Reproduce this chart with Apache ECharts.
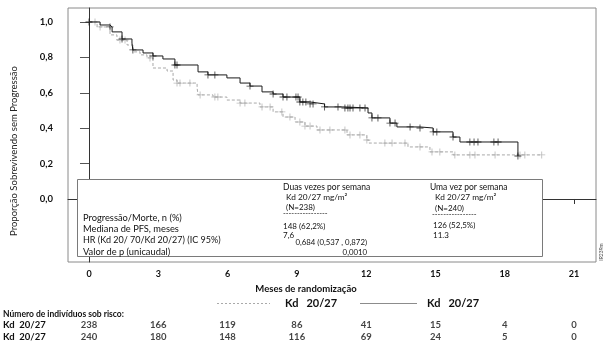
<!DOCTYPE html>
<html><head><meta charset="utf-8">
<script src="https://cdn.jsdelivr.net/npm/echarts@6/dist/echarts.min.js"></script>
<style>html,body{margin:0;padding:0;background:#fff}#c{width:613px;height:347px}</style>
</head><body><div id="c"></div>
<script>
// ---- data ----
const xTicks = [0, 3, 6, 9, 12, 15, 18, 21];
const yTicks = [0, 0.2, 0.4, 0.6, 0.8, 1.0];
// twice weekly (grey dashed)
const twiceTimes = [0,0.35,0.91,1.21,1.65,1.9,2.21,2.51,2.77,3.38,3.64,3.81,4.68,4.72,5.37,5.97,6.54,7.4,7.97,8.4,8.92,9.35,9.87,11.17,12.03,12.12,13.81,14.76,15.76];
const twiceSurv  = [1,0.972,0.927,0.898,0.87,0.831,0.814,0.797,0.74,0.723,0.672,0.655,0.627,0.588,0.576,0.559,0.542,0.52,0.492,0.463,0.435,0.412,0.39,0.362,0.333,0.316,0.294,0.266,0.249];
const twiceEnd = 19.6;
const twiceCensor = [0.26,0.48,1.34,1.56,2.64,3.81,3.94,4.37,4.81,5.45,5.58,6.54,6.75,7.49,7.84,8.35,8.7,9.13,9.35,9.57,10.0,10.43,11.08,11.3,11.73,12.03,12.81,13.12,13.68,14.33,14.85,15.19,15.84,16.49,16.71,17.58,18.66,18.87,19.6];
// once weekly (black solid)
const onceTimes = [0,0.48,0.91,1.0,1.43,1.86,1.9,2.34,2.77,3.2,3.72,4.72,5.15,5.97,6.54,6.97,7.49,7.97,8.4,9.13,9.57,10.2,11.08,12.08,12.25,13.03,13.33,14.33,14.9,15.76,16.06,18.57];
const onceSurv  = [1,0.983,0.972,0.944,0.904,0.881,0.842,0.825,0.808,0.791,0.757,0.718,0.701,0.684,0.655,0.638,0.605,0.593,0.576,0.548,0.537,0.52,0.514,0.486,0.458,0.429,0.407,0.401,0.379,0.35,0.322,0.243];
const onceEnd = 18.57;
const onceCensor = [0,0.91,1.43,1.9,2.77,3.72,3.81,5.15,5.45,6.97,7.97,8.4,8.57,8.96,9.05,9.13,9.26,9.39,9.57,9.7,10.2,10.78,11.08,11.21,11.3,11.43,11.73,11.95,12.25,12.51,13.03,13.25,13.9,14.33,14.9,15.06,15.76,16.49,16.67,16.84,17.53,17.71,18.57];
// number at risk
const riskTimes = [0, 3, 6, 9, 12, 15, 18, 21];
const riskTwice = [238, 166, 119, 86, 41, 15, 4, 0];
const riskOnce  = [240, 180, 148, 116, 69, 24, 5, 0];
const rowLabels = ['Kd  20/27', 'Kd  20/27'];

// ---- build ----
function curve(times, surv, end) {
  const d = times.map((t, i) => [t, surv[i]]);
  if (end > times[times.length - 1]) d.push([end, surv[surv.length - 1]]);
  return d;
}
function stepVal(times, surv, t) {
  let v = surv[0];
  for (let i = 0; i < times.length; i++) { if (times[i] <= t + 1e-9) v = surv[i]; }
  return v;
}
const plus = 'path://M-0.6,-5H0.6V-0.6H5V0.6H0.6V5H-0.6V0.6H-5V-0.6H-0.6Z';
const F = 'Lato, "Liberation Sans", sans-serif';
const grey = '#a9a9a9';

const riskData = [];
riskTimes.forEach((t, i) => { riskData.push([t, 0, riskTwice[i]]); riskData.push([t, 1, riskOnce[i]]); });

function txt(x, y, s, size, extra) {
  return Object.assign({type: 'text', x: x, y: y, z: 11,
    style: Object.assign({text: s, font: size + 'px ' + F, fill: '#111', verticalAlign: 'middle'}, extra || {})});
}

const chart = echarts.init(document.getElementById('c'));
chart.setOption({
  animation: false,
  grid: [
    {left: 68, right: 17, top: 8, bottom: 85, show: true, borderColor: '#8a8a8a', borderWidth: 1},
    {left: 68, right: 17, top: 319, height: 24}
  ],
  xAxis: [
    {type: 'value', gridIndex: 0, min: -0.909, max: 21.95,
     axisLine: {show: true, lineStyle: {color: '#333', width: 1}},
     axisTick: {show: true, length: 5, lineStyle: {color: '#333'}, customValues: xTicks},
     axisLabel: {show: true, customValues: xTicks, margin: 8, fontFamily: F, fontSize: 9, fontWeight: 'bold', color: '#111'},
     splitLine: {show: false},
     name: 'Meses de randomização', nameLocation: 'middle', nameGap: 20,
     nameTextStyle: {fontFamily: F, fontSize: 9.5, fontWeight: 'bold', color: '#111', padding: [0, 52, 0, 0]}},
    {type: 'value', gridIndex: 1, min: -0.909, max: 21.95, show: false}
  ],
  yAxis: [
    {type: 'value', gridIndex: 0, min: -0.356, max: 1.079,
     axisLine: {show: true, lineStyle: {color: '#333', width: 1}},
     axisTick: {show: true, length: 9, lineStyle: {color: '#555'}, customValues: yTicks},
     axisLabel: {show: true, customValues: yTicks, margin: 15, fontFamily: F, fontSize: 9.5, fontWeight: 'bold', color: '#111',
       formatter: v => v.toFixed(1).replace('.', ',')},
     splitLine: {show: false}},
    {type: 'category', gridIndex: 1, data: [0, 1], inverse: true,
     axisLine: {show: false}, axisTick: {show: false}, splitLine: {show: false},
     axisLabel: {show: true, interval: 0, hideOverlap: false, align: 'left', margin: 65, fontFamily: F, fontSize: 9.5, fontWeight: 'bold', color: '#111',
       formatter: (v, i) => rowLabels[i]}}
  ],
  series: [
    {type: 'line', step: 'end', data: curve(twiceTimes, twiceSurv, twiceEnd), showSymbol: false,
     lineStyle: {color: grey, width: 1, type: [3, 2]}, z: 2},
    {type: 'scatter', data: twiceCensor.map(t => [t, stepVal(twiceTimes, twiceSurv, t)]),
     symbol: plus, symbolSize: 7, itemStyle: {color: grey}, z: 3},
    {type: 'line', step: 'end', data: curve(onceTimes, onceSurv, onceEnd), showSymbol: false,
     lineStyle: {color: '#1a1a1a', width: 1}, z: 4},
    {type: 'scatter', data: onceCensor.map(t => [t, stepVal(onceTimes, onceSurv, t)]),
     symbol: plus, symbolSize: 7, itemStyle: {color: '#111'}, z: 5},
    {type: 'scatter', xAxisIndex: 1, yAxisIndex: 1, data: riskData, symbolSize: 1,
     itemStyle: {color: 'rgba(0,0,0,0)'},
     label: {show: true, position: 'inside', formatter: p => String(p.value[2]),
       fontFamily: F, fontSize: 9.5, fontWeight: 'bold', color: '#111'}}
  ],
  graphic: [
    {type: 'text', x: 14, y: 151, rotation: Math.PI / 2,
     style: {text: 'Proporção Sobrevivendo sem Progressão', font: '9.5px ' + F, fill: '#222', align: 'center', verticalAlign: 'middle'}},
    {type: 'rect', shape: {x: 77.5, y: 179.5, width: 465, height: 77}, style: {fill: '#fff', stroke: '#7a7a7a', lineWidth: 1}, z: 10},
    txt(83, 218, 'Progressão/Morte, n (%)', 9.3),
    txt(83, 229, 'Mediana de PFS, meses', 9.3),
    txt(83, 240, 'HR (Kd 20/ 70/Kd 20/27) (IC 95%)', 9),
    txt(83, 252, 'Valor de p (unicaudal)', 9.3),
    txt(283, 187, 'Duas vezes por semana', 8.5),
    txt(286, 197, 'Kd 20/27 mg/m²', 8.3),
    txt(286, 207, '(N=238)', 8),
    txt(283, 214, '----------------', 7.5),
    txt(283, 226, '148 (62,2%)', 8),
    txt(283, 235, '7,6', 8),
    txt(367, 242, '0,684 (0,537 , 0,872)', 7.8, {align: 'right'}),
    txt(367, 252, '0,0010', 7.8, {align: 'right'}),
    txt(430, 187, 'Uma vez por semana', 8.5),
    txt(435, 197, 'Kd 20/27 mg/m²', 8.3),
    txt(435, 208, '(N=240)', 8),
    txt(432, 215, '----------------', 7.5),
    txt(433, 225, '126 (52,5%)', 8),
    txt(433, 235, '11.3', 8),
    {type: 'text', x: 601, y: 252, rotation: Math.PI / 2, style: {text: 'IR239m', font: '5px ' + F, fill: '#444', align: 'center', verticalAlign: 'middle'}},
    // legend
    {type: 'line', shape: {x1: 217, y1: 303.5, x2: 270, y2: 303.5}, style: {stroke: grey, lineWidth: 1, lineDash: [2, 2]}},
    {type: 'text', x: 285, y: 303, style: {text: 'Kd   20/27', font: 'bold 11px ' + F, fill: '#111', verticalAlign: 'middle'}},
    {type: 'line', shape: {x1: 360, y1: 303.5, x2: 417, y2: 303.5}, style: {stroke: '#8c8c8c', lineWidth: 1.2}},
    {type: 'text', x: 427, y: 303, style: {text: 'Kd   20/27', font: 'bold 11px ' + F, fill: '#111', verticalAlign: 'middle'}},
    {type: 'text', x: 3, y: 314, style: {text: 'Número de indivíduos sob risco:', font: 'bold 8.5px ' + F, fill: '#111', verticalAlign: 'middle'}}
  ]
});
</script></body></html>
